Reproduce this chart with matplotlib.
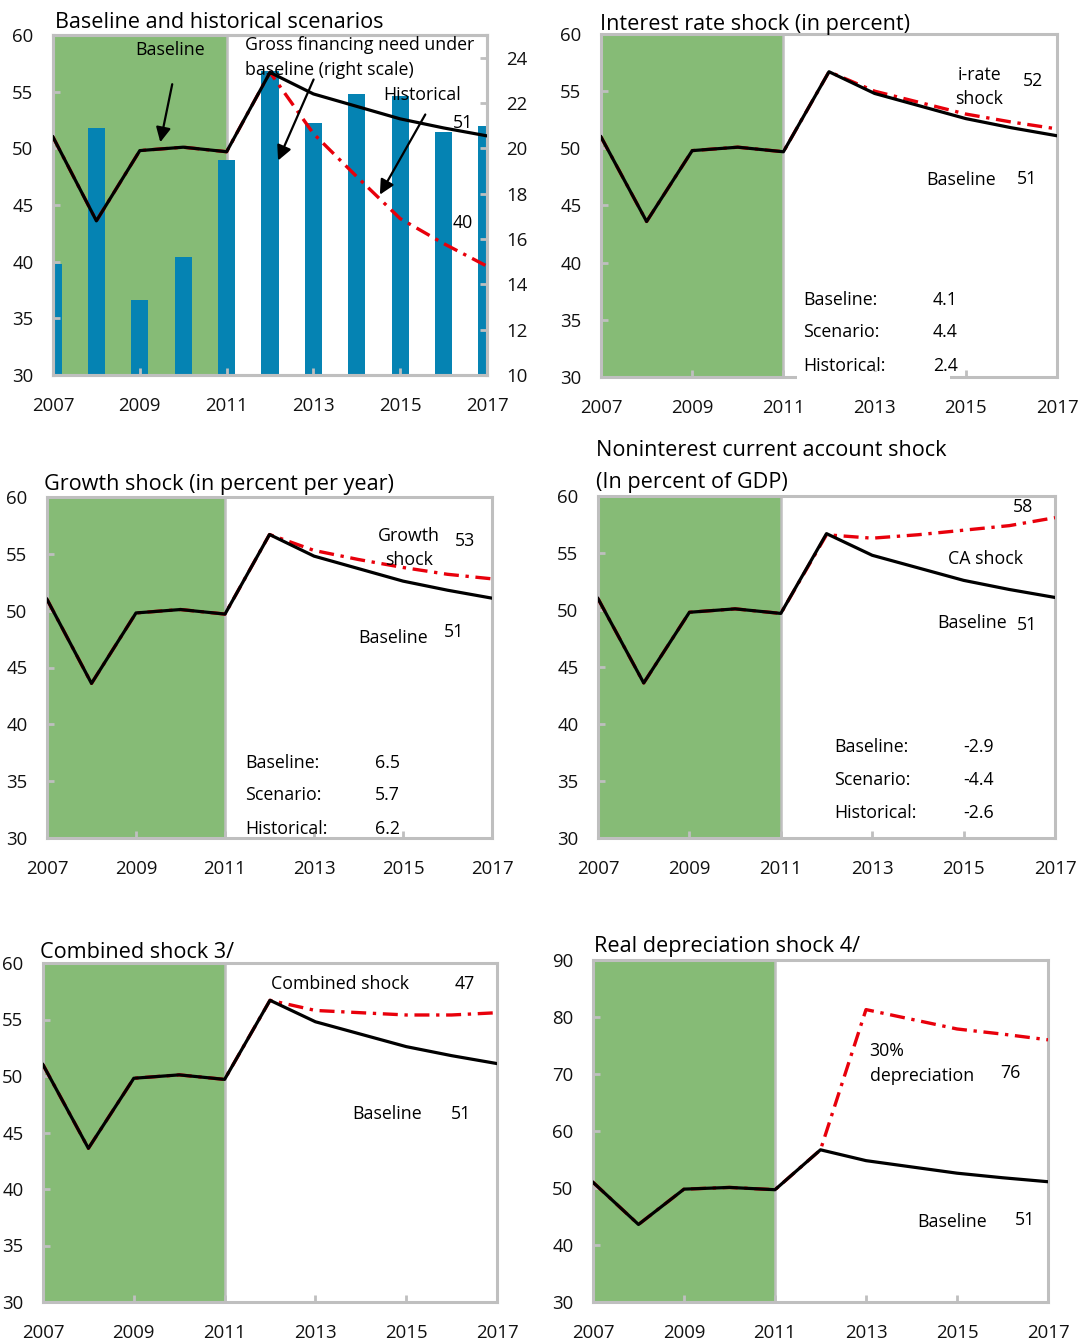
import matplotlib.pyplot as plt
from matplotlib.patches import Rectangle

plt.rcParams['font.family'] = ['Open Sans', 'DejaVu Sans']

# ---- data ----
years = [2007, 2008, 2009, 2010, 2011, 2012, 2013, 2014, 2015, 2016, 2017]
baseline = [51.0, 43.6, 49.8, 50.1, 49.7, 56.7, 54.8, 53.7, 52.6, 51.8, 51.1]
gross_financing = [14.9, 20.9, 13.3, 15.2, 19.5, 23.4, 21.1, 22.4, 22.3, 20.7, 21.0]
historical = [51.0, 43.6, 49.8, 50.1, 49.7, 56.7, 51.3, 47.5, 43.8, 41.6, 39.6]
irate_shock = [51.0, 43.6, 49.8, 50.1, 49.7, 56.7, 55.0, 54.0, 53.0, 52.3, 51.7]
growth_shock = [51.0, 43.6, 49.8, 50.1, 49.7, 56.7, 55.3, 54.5, 53.8, 53.2, 52.8]
ca_shock = [51.0, 43.6, 49.8, 50.1, 49.7, 56.6, 56.3, 56.6, 57.0, 57.4, 58.1]
combined_shock = [51.0, 43.6, 49.8, 50.1, 49.7, 56.7, 55.8, 55.6, 55.4, 55.4, 55.6]
depreciation_shock = [51.0, 43.6, 49.8, 50.1, 49.7, 56.7, 81.3, 79.6, 77.9, 77.0, 76.0]

table_labels = ["Baseline:", "Scenario:", "Historical:"]
irate_table = ["4.1", "4.4", "2.4"]
growth_table = ["6.5", "5.7", "6.2"]
ca_table = ["-2.9", "-4.4", "-2.6"]

GREEN = "#86BB76"
BLUE = "#0583B3"
FRAME = "#BFBFBF"
RED = "#E8000B"
W, H = 1080, 1340
FS = 12.8      # annotation text
TICK_FS = 13.4


def add_axes(x0, x1, y0, y1):
    # pixel box -> figure fraction
    return fig.add_axes([x0 / W, 1 - y1 / H, (x1 - x0) / W, (y1 - y0) / H])


def style(ax, ymin=30, ymax=60, ystep=5, shade=True):
    ax.set_xlim(2007, 2017)
    ax.set_ylim(ymin, ymax)
    if shade:
        ax.axvspan(2007, 2011, color=GREEN, lw=0, zorder=0)
        ax.axvline(2011, color=FRAME, lw=1.8, zorder=0.5)
    ax.set_xticks(range(2007, 2018, 2))
    ax.set_yticks(range(ymin, ymax + 1, ystep))
    for sp in ax.spines.values():
        sp.set_color(FRAME)
        sp.set_linewidth(2.2)
    ax.tick_params(direction="in", color=FRAME, width=2, length=5,
                   labelsize=TICK_FS, labelcolor="#111111")
    ax.tick_params(axis="y", pad=14)
    ax.tick_params(axis="x", pad=16)


def lines(ax, shock):
    ax.plot(years, shock, color=RED, lw=2.4, linestyle=(0, (4.5, 2, 1, 2)), zorder=3)
    ax.plot(years, baseline, color="black", lw=2.3, zorder=4)


def title(x, y, s):
    # y is the visual centre in pixels; nudge for the font's descent
    fig.text(x / W, 1 - (y + 2.5) / H, s, fontsize=15.6, ha="left", va="center")


def note(ax, x, y, s, ha="center"):
    ax.text(x, y, s, fontsize=FS, ha=ha, va="center")


def table(ax, xl, xv, ys, values):
    for lab, val, y in zip(table_labels, values, ys):
        ax.text(xl, y, lab, fontsize=FS, va="center", ha="left", zorder=6)
        ax.text(xv, y, val, fontsize=FS, va="center", ha="left", zorder=6)


fig = plt.figure(figsize=(W / 100, H / 100), dpi=100)

# ---- 1. Baseline and historical scenarios ----
ax1 = add_axes(53, 487, 35, 375)
ax1r = ax1.twinx()
style(ax1, shade=False)
ax1r.set_ylim(10, 25)
ax1r.set_yticks(range(10, 25, 2))
ax1r.tick_params(direction="in", color=FRAME, width=2, length=5,
                 labelsize=TICK_FS, labelcolor="#111111", pad=14)
for sp in ax1r.spines.values():
    sp.set_color(FRAME)
    sp.set_linewidth(2.2)
ax1r.axvspan(2007, 2011, color=GREEN, lw=0, zorder=0)
ax1r.axvline(2011, color=FRAME, lw=1.8, zorder=0.5)
ax1r.bar(years, gross_financing, width=0.4, color=BLUE, zorder=1)
ax1.set_zorder(ax1r.get_zorder() + 1)
ax1.patch.set_visible(False)
lines(ax1, historical)

arrow = dict(arrowstyle="-|>", color="black", lw=1.6, mutation_scale=22)
note(ax1, 2009.7, 58.7, "Baseline")
ax1.annotate("", xy=(2009.46, 50.3), xytext=(2009.76, 55.9), arrowprops=arrow)
note(ax1, 2011.42, 59.1, "Gross financing need under", ha="left")
note(ax1, 2011.42, 56.9, "baseline (right scale)", ha="left")
ax1.annotate("", xy=(2012.16, 48.7), xytext=(2013.03, 56.3), arrowprops=arrow)
note(ax1, 2014.62, 54.7, "Historical", ha="left")
ax1.annotate("", xy=(2014.5, 45.7), xytext=(2015.61, 53.2), arrowprops=arrow)
note(ax1, 2016.44, 52.2, "51")
note(ax1, 2016.44, 43.4, "40")
title(55, 20, "Baseline and historical scenarios")

# ---- 2. Interest rate shock ----
ax2 = add_axes(601, 1057, 34, 377)
style(ax2)
lines(ax2, irate_shock)
note(ax2, 2015.3, 56.4, "i-rate")
note(ax2, 2015.3, 54.3, "shock")
note(ax2, 2016.47, 55.9, "52")
note(ax2, 2014.9, 47.2, "Baseline")
note(ax2, 2016.34, 47.3, "51")
ax2.add_patch(Rectangle((2011.3, 29.4), 3.35, 1.0, facecolor="white", edgecolor="none",
                        clip_on=False, zorder=5))
table(ax2, 2011.44, 2014.28, [36.7, 33.9, 31.0], irate_table)
title(600, 22, "Interest rate shock (in percent)")

# ---- 3. Growth shock ----
ax3 = add_axes(47, 492, 497, 838)
style(ax3)
lines(ax3, growth_shock)
note(ax3, 2015.13, 56.6, "Growth")
note(ax3, 2015.13, 54.5, "shock")
note(ax3, 2016.4, 56.1, "53")
note(ax3, 2014.77, 47.6, "Baseline")
note(ax3, 2016.15, 48.1, "51")
table(ax3, 2011.46, 2014.37, [36.6, 33.8, 30.8], growth_table)
title(44, 482, "Growth shock (in percent per year)")

# ---- 4. Noninterest current account shock ----
ax4 = add_axes(598, 1055, 496, 838)
style(ax4)
lines(ax4, ca_shock)
note(ax4, 2016.3, 59.0, "58")
note(ax4, 2015.48, 54.5, "CA shock")
note(ax4, 2015.18, 48.85, "Baseline")
note(ax4, 2016.38, 48.65, "51")
table(ax4, 2012.16, 2015.0, [38.0, 35.1, 32.2], ca_table)
title(596, 448, "Noninterest current account shock")
title(596, 480, "(In percent of GDP)")

# ---- 5. Combined shock ----
ax5 = add_axes(43, 497, 963, 1302)
style(ax5)
lines(ax5, combined_shock)
note(ax5, 2012.03, 58.1, "Combined shock", ha="left")
note(ax5, 2016.3, 58.1, "47")
note(ax5, 2014.57, 46.6, "Baseline")
note(ax5, 2016.2, 46.6, "51")
title(40, 950, "Combined shock 3/")

# ---- 6. Real depreciation shock ----
ax6 = add_axes(593, 1048, 960, 1302)
style(ax6, 30, 90, 10)
lines(ax6, depreciation_shock)
note(ax6, 2013.08, 74.1, "30%", ha="left")
note(ax6, 2013.08, 69.7, "depreciation", ha="left")
note(ax6, 2016.18, 70.1, "76")
note(ax6, 2014.89, 44.0, "Baseline")
note(ax6, 2016.5, 44.3, "51")
title(594, 944, "Real depreciation shock 4/")

fig.savefig("out.png", dpi=100)
